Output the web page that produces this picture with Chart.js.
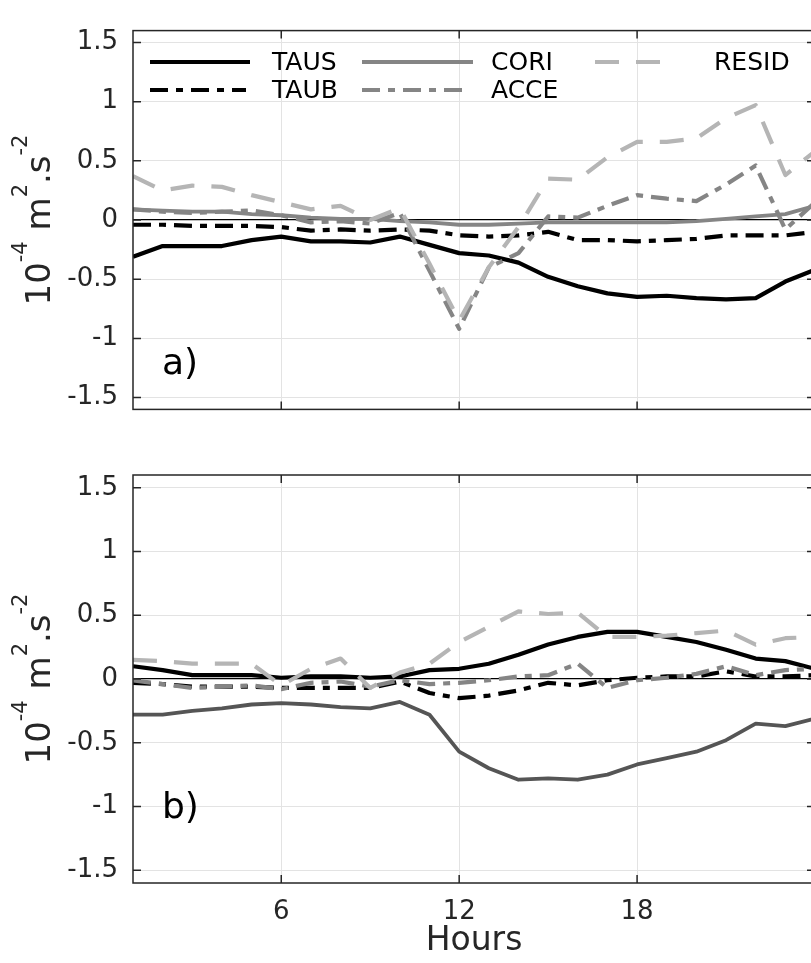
<!DOCTYPE html>
<html>
<head>
<meta charset="utf-8">
<script src="https://cdn.jsdelivr.net/npm/chart.js@4.4.1/dist/chart.umd.min.js"></script>
<style>
    body { margin: 0; width: 811px; height: 963px; overflow: hidden; background: #fff; }
    .painel { position: absolute; left: 0; }
</style>
</head>
<body>
<canvas id="graficoA" class="painel" style="top:0" width="830" height="440"></canvas>
<canvas id="graficoB" class="painel" style="top:440px" width="830" height="523"></canvas>
<script>
// Horas (eixo x) e ticks
const horas = [1, 2, 3, 4, 5, 6, 7, 8, 9, 10, 11, 12, 13, 14, 15, 16, 17, 18, 19, 20, 21, 22, 23, 24];
const ticksX = [6, 12, 18];
const ticksY = [-1.5, -1, -0.5, 0, 0.5, 1, 1.5];

// Painel a)
const tausA = [-0.31, -0.22, -0.22, -0.22, -0.17, -0.14, -0.18, -0.18, -0.19, -0.14, -0.21, -0.28, -0.30, -0.36, -0.48, -0.56, -0.62, -0.65, -0.64, -0.66, -0.67, -0.66, -0.52, -0.42];
const taubA = [-0.04, -0.04, -0.05, -0.05, -0.05, -0.06, -0.09, -0.08, -0.09, -0.08, -0.09, -0.13, -0.14, -0.13, -0.10, -0.17, -0.17, -0.18, -0.17, -0.16, -0.13, -0.13, -0.13, -0.10];
const coriA = [0.09, 0.08, 0.07, 0.07, 0.05, 0.04, 0.02, 0.01, 0.01, -0.01, -0.02, -0.04, -0.04, -0.03, -0.02, -0.02, -0.02, -0.02, -0.02, -0.01, 0.01, 0.03, 0.05, 0.12];
const acceA = [0.09, 0.07, 0.06, 0.07, 0.08, 0.04, -0.02, -0.01, -0.03, 0.06, -0.43, -0.92, -0.40, -0.28, 0.03, 0.02, 0.12, 0.21, 0.18, 0.16, 0.30, 0.46, -0.08, 0.15];
const residA = [0.37, 0.25, 0.29, 0.28, 0.21, 0.15, 0.09, 0.12, 0.00, 0.10, -0.37, -0.85, -0.40, -0.06, 0.35, 0.34, 0.53, 0.66, 0.66, 0.69, 0.86, 0.97, 0.38, 0.58];

// Painel b)
const tausB = [0.10, 0.07, 0.03, 0.03, 0.03, 0.01, 0.02, 0.02, 0.01, 0.02, 0.07, 0.08, 0.12, 0.19, 0.27, 0.33, 0.37, 0.37, 0.33, 0.29, 0.23, 0.16, 0.14, 0.08];
const taubB = [-0.03, -0.04, -0.06, -0.06, -0.06, -0.07, -0.07, -0.07, -0.07, -0.02, -0.11, -0.15, -0.13, -0.09, -0.03, -0.05, -0.01, 0.01, 0.02, 0.02, 0.06, 0.02, 0.02, 0.03];
const coriB = [-0.28, -0.28, -0.25, -0.23, -0.20, -0.19, -0.20, -0.22, -0.23, -0.18, -0.28, -0.57, -0.70, -0.79, -0.78, -0.79, -0.75, -0.67, -0.62, -0.57, -0.48, -0.35, -0.37, -0.31];
const acceB = [-0.01, -0.04, -0.07, -0.06, -0.05, -0.08, -0.03, -0.02, -0.06, -0.01, -0.04, -0.03, -0.01, 0.02, 0.03, 0.12, -0.07, -0.01, 0.01, 0.04, 0.10, 0.03, 0.07, 0.08];
const residB = [0.15, 0.14, 0.12, 0.12, 0.12, -0.05, 0.08, 0.16, -0.07, 0.05, 0.12, 0.29, 0.41, 0.53, 0.51, 0.52, 0.33, 0.33, 0.34, 0.36, 0.38, 0.27, 0.32, 0.33];

const FONTE = '"DejaVu Sans", sans-serif';
const TRACO_PONTO = [18, 8, 7, 8];
const TRACEJADO = [24, 17];

function pontos(valores) {
    return horas.map((h, i) => ({ x: h, y: valores[i] }));
}

function serie(rotulo, valores, cor, largura, tracejado, ordem) {
    return {
        label: rotulo,
        data: pontos(valores),
        borderColor: cor,
        borderWidth: largura,
        borderDash: tracejado,
        pointRadius: 0,
        tension: 0,
        fill: false,
        borderJoinStyle: 'round',
        order: ordem
    };
}

// Moldura, ticks internos, letra do painel e titulo do eixo y
const molduraPlugin = {
    id: 'moldura',
    afterDraw(chart, args, opts) {
        const ctx = chart.ctx;
        const a = chart.chartArea;
        const x = chart.scales.x, y = chart.scales.y;
        ctx.save();
        ctx.strokeStyle = '#262626';
        ctx.lineWidth = 1.5;
        ctx.strokeRect(a.left, a.top, a.right - a.left, a.bottom - a.top);
        ctx.beginPath();
        ticksX.forEach(v => {
            const px = x.getPixelForValue(v);
            ctx.moveTo(px, a.bottom); ctx.lineTo(px, a.bottom - 8);
            ctx.moveTo(px, a.top); ctx.lineTo(px, a.top + 8);
        });
        ticksY.forEach(v => {
            const py = y.getPixelForValue(v);
            ctx.moveTo(a.left, py); ctx.lineTo(a.left + 8, py);
            ctx.moveTo(a.right, py); ctx.lineTo(a.right - 8, py);
        });
        ctx.stroke();

        ctx.fillStyle = '#000';
        ctx.font = '36px ' + FONTE;
        ctx.textBaseline = 'middle';
        ctx.fillText(opts.letra, a.left + 29, a.top + 334);

        // titulo y com expoentes
        const partes = [
            { t: '10', sup: false }, { t: '-4', sup: true }, { t: ' m', sup: false },
            { t: '2', sup: true }, { t: '.s', sup: false }, { t: '-2', sup: true }
        ];
        const fonteNormal = '34px ' + FONTE, fonteSup = '21px ' + FONTE;
        let total = 0;
        partes.forEach(p => { ctx.font = p.sup ? fonteSup : fonteNormal; p.w = ctx.measureText(p.t).width; total += p.w; });
        ctx.translate(50, (a.top + a.bottom) / 2);
        ctx.rotate(-Math.PI / 2);
        ctx.textBaseline = 'alphabetic';
        ctx.fillStyle = '#262626';
        let pos = -total / 2;
        partes.forEach(p => {
            ctx.font = p.sup ? fonteSup : fonteNormal;
            ctx.fillText(p.t, pos, p.sup ? -23 : 0);
            pos += p.w;
        });
        ctx.restore();
    }
};

// Legenda desenhada dentro do painel a)
const legendaPlugin = {
    id: 'legendaInterna',
    afterDatasetsDraw(chart, args, opts) {
        if (!opts.itens) return;
        const ctx = chart.ctx;
        ctx.save();
        opts.itens.forEach(item => {
            const ds = chart.data.datasets.find(d => d.label === item.rotulo);
            ctx.strokeStyle = ds.borderColor;
            ctx.lineWidth = ds.borderWidth;
            ctx.setLineDash(ds.borderDash || []);
            ctx.beginPath();
            ctx.moveTo(item.x0, item.y);
            ctx.lineTo(item.x1, item.y);
            ctx.stroke();
            ctx.setLineDash([]);
            ctx.fillStyle = '#000';
            ctx.font = '25px ' + FONTE;
            ctx.textBaseline = 'middle';
            ctx.fillText(item.rotulo, item.xt, item.y + 1);
        });
        ctx.restore();
    }
};

function criarPainel(idCanvas, datasets, config) {
    const ctx = document.getElementById(idCanvas).getContext('2d');
    return new Chart(ctx, {
        type: 'line',
        data: { datasets: datasets },
        plugins: [molduraPlugin, legendaPlugin],
        options: {
            responsive: false,
            animation: false,
            layout: { padding: { left: 0, right: 15, top: config.topo, bottom: 0 } },
            scales: {
                x: {
                    type: 'linear',
                    min: 1,
                    max: 24,
                    afterBuildTicks: s => { s.ticks = ticksX.map(v => ({ value: v })); },
                    afterFit: s => { s.height = config.alturaX; },
                    ticks: {
                        display: config.rotulosX,
                        autoSkip: false,
                        maxRotation: 0,
                        padding: 14,
                        color: '#262626',
                        font: { family: FONTE, size: 26 }
                    },
                    grid: { color: '#e3e3e3', drawTicks: false },
                    border: { display: false },
                    title: {
                        display: config.rotulosX,
                        text: 'Hours',
                        color: '#262626',
                        font: { family: FONTE, size: 33 },
                        padding: { top: 0, bottom: 2 }
                    }
                },
                y: {
                    type: 'linear',
                    min: -1.6,
                    max: 1.6,
                    afterBuildTicks: s => { s.ticks = ticksY.map(v => ({ value: v })); },
                    afterFit: s => { s.width = 133; },
                    ticks: {
                        padding: 15,
                        color: '#262626',
                        font: { family: FONTE, size: 26 },
                        callback: v => String(v)
                    },
                    grid: {
                        color: c => (c.tick && c.tick.value === 0) ? '#000' : '#e3e3e3',
                        lineWidth: c => (c.tick && c.tick.value === 0) ? 1.3 : 1,
                        drawTicks: false
                    },
                    border: { display: false }
                }
            },
            plugins: {
                legend: { display: false },
                tooltip: { enabled: false },
                moldura: { letra: config.letra },
                legendaInterna: { itens: config.legenda }
            }
        }
    });
}

window.graficoA = criarPainel('graficoA', [
    serie('TAUS', tausA, '#000000', 4.2, [], 5),
    serie('TAUB', taubA, '#000000', 4.2, TRACO_PONTO, 4),
    serie('CORI', coriA, '#858585', 3.8, [], 3),
    serie('ACCE', acceA, '#858585', 4.2, TRACO_PONTO, 2),
    serie('RESID', residA, '#b5b5b5', 4.2, TRACEJADO, 1)
], {
    topo: 13, alturaX: 19, rotulosX: false, letra: 'a)',
    legenda: [
        { rotulo: 'TAUS', x0: 150, x1: 250, xt: 272, y: 62 },
        { rotulo: 'TAUB', x0: 150, x1: 246, xt: 272, y: 90 },
        { rotulo: 'CORI', x0: 362, x1: 473, xt: 491, y: 62 },
        { rotulo: 'ACCE', x0: 362, x1: 470, xt: 491, y: 90 },
        { rotulo: 'RESID', x0: 595, x1: 670, xt: 714, y: 62 }
    ]
});

window.graficoB = criarPainel('graficoB', [
    serie('TAUS', tausB, '#000000', 4.2, [], 5),
    serie('TAUB', taubB, '#000000', 4.2, TRACO_PONTO, 4),
    serie('CORI', coriB, '#555555', 3.8, [], 3),
    serie('ACCE', acceB, '#858585', 4.2, TRACO_PONTO, 2),
    serie('RESID', residB, '#b5b5b5', 4.2, TRACEJADO, 1)
], {
    topo: 35, alturaX: 80, rotulosX: true, letra: 'b)', legenda: null
});
</script>
</body>
</html>
